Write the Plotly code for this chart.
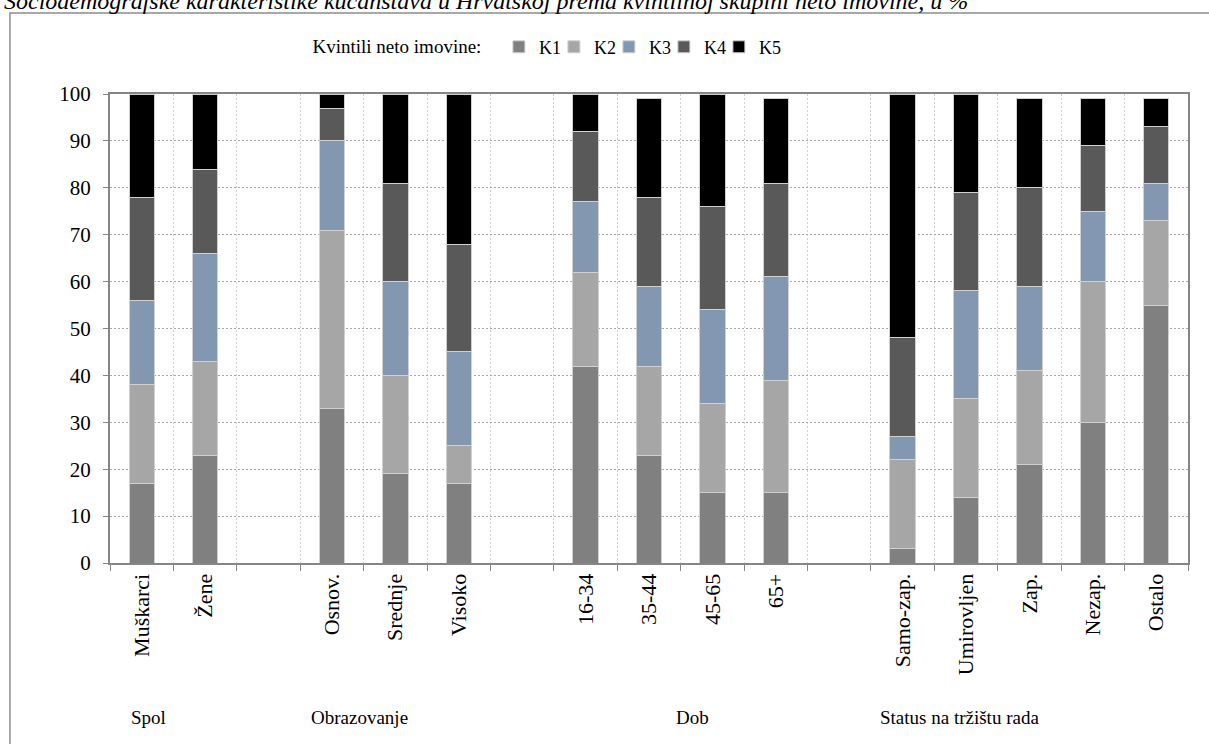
import plotly.graph_objects as go

# ---- data ----
categories = ["Muškarci", "Žene",
              "Osnov.", "Srednje", "Visoko",
              "16-34", "35-44", "45-65", "65+",
              "Samo-zap.", "Umirovljen", "Zap.", "Nezap.", "Ostalo"]
groups = ["Spol", "Obrazovanje", "Dob", "Status na tržištu rada"]
group_sizes = [2, 3, 4, 5]

k1 = [17, 23, 33, 19, 17, 42, 23, 15, 15, 3, 14, 21, 30, 55]
k2 = [21, 20, 38, 21, 8, 20, 19, 19, 24, 19, 21, 20, 30, 18]
k3 = [18, 23, 19, 20, 20, 15, 17, 20, 22, 5, 23, 18, 15, 8]
k4 = [22, 18, 7, 21, 23, 15, 19, 22, 20, 21, 21, 21, 14, 12]
k5 = [22, 16, 3, 19, 32, 8, 21, 24, 18, 52, 21, 19, 10, 6]

series_names = ["K1", "K2", "K3", "K4", "K5"]
series_values = [k1, k2, k3, k4, k5]
colors = ["#808080", "#a6a6a6", "#8497b0", "#595959", "#000000"]

title_text = "Sociodemografske karakteristike kućanstava u Hrvatskoj prema kvintilnoj skupini neto imovine, u %"

# ---- slot positions (one empty slot between groups) ----
xpos = []
slot = 0
for gi, n in enumerate(group_sizes):
    for _ in range(n):
        xpos.append(slot)
        slot += 1
    if gi < len(group_sizes) - 1:
        slot += 1
n_slots = slot

FONT = "Liberation Serif"

fig = go.Figure()
for name, vals, col in zip(series_names, series_values, colors):
    fig.add_trace(go.Bar(
        x=xpos, y=vals, name=name,
        marker=dict(color=col, line=dict(color="#d0d0d0", width=1)),
        width=0.4,
    ))
# invisible spacer legend entry so the last legend label is not clipped
fig.add_trace(go.Bar(x=[xpos[0]], y=[0], name=" ", showlegend=True, hoverinfo="skip",
                     width=0.4,
                     marker=dict(color="rgba(0,0,0,0)", line=dict(width=0))))

fig.update_layout(
    barmode="stack",
    width=1209, height=744,
    margin=dict(l=110, r=21, t=94, b=181),
    paper_bgcolor="white", plot_bgcolor="white",
    font=dict(family=FONT, size=19, color="#000000"),
    showlegend=True,
    legend=dict(
        orientation="h",
        x=0.186, xanchor="left",
        y=1.10, yanchor="middle",
        title=dict(text="Kvintili neto imovine:  ", side="left", font=dict(size=19)),
        font=dict(size=18),
        itemwidth=30,
        entrywidth=10, entrywidthmode="pixels",
        traceorder="normal",
        bgcolor="rgba(0,0,0,0)",
    ),
)

fig.update_yaxes(
    range=[0, 100], dtick=10, tick0=0,
    showgrid=True, gridcolor="#a6a6a6", griddash="2px,2px", gridwidth=1,
    showline=True, linecolor="#868686", linewidth=2, mirror=True,
    ticks="outside", ticklen=5, tickcolor="#868686",
    tickfont=dict(family=FONT, size=21),
    ticklabelstandoff=8,
    zeroline=False,
)

fig.update_xaxes(
    range=[-0.5, n_slots - 0.5],
    tickmode="array", tickvals=xpos, ticktext=categories,
    tickangle=-90,
    ticks="", showgrid=False,
    showline=True, linecolor="#868686", linewidth=2, mirror=True,
    tickfont=dict(family=FONT, size=22),
    minor=dict(tick0=-0.5, dtick=1, ticks="outside", ticklen=6,
               tickcolor="#868686", showgrid=True, gridcolor="#d0d0d0",
               griddash="2px,2px", gridwidth=1),
    zeroline=False,
)

# group labels
group_label_x = [0.11, 3.44, 8.69, 12.9]
for g, gx in zip(groups, group_label_x):
    fig.add_annotation(x=gx, xref="x", y=-0.329, yref="paper",
                       text=g, showarrow=False,
                       font=dict(family=FONT, size=19),
                       xanchor="center", yanchor="middle")

# outer chart frame
fig.add_shape(type="rect", xref="paper", yref="paper",
              x0=-0.0928, x1=1.05, y0=-0.6, y1=1.1727,
              line=dict(color="#8c8c8c", width=1.5), layer="below")

# title (partly cut at the top, as in the source)
fig.add_annotation(x=-0.1, xref="paper", xanchor="left",
                   y=1.167, yref="paper", yanchor="bottom",
                   text="<i>" + title_text + "</i>", showarrow=False,
                   font=dict(family=FONT, size=24, color="#000000"))

fig.write_html("out.html",
               config={"displayModeBar": False},
               post_script="document.body.style.margin='0';document.body.style.overflow='hidden';")
